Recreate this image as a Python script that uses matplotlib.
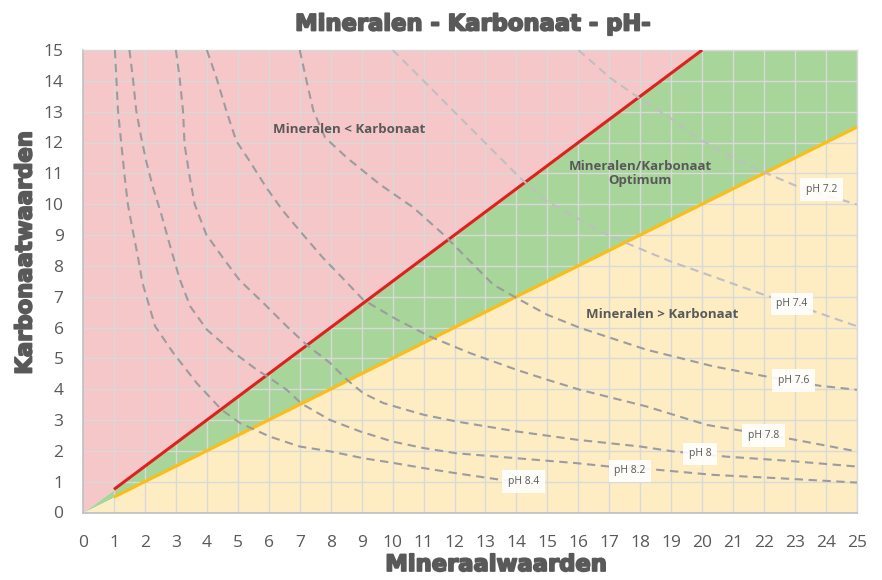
import matplotlib
matplotlib.use("Agg")
import matplotlib.pyplot as plt
import matplotlib.patheffects as pe
import numpy as np

# ---------------- data ----------------
bound_x = [0, 1, 20, 25]
upper_bound = [0, 0.75, 15, 15]       # Mineralen < Karbonaat border (red)
lower_bound = [0, 0.5, 10, 12.5]      # Mineralen > Karbonaat border (yellow)

red_line_x = [1, 20]
red_line_y = [0.75, 15]
yellow_line_x = [1, 25]
yellow_line_y = [0.5, 12.5]

ph72_x = [16.0, 17.02, 17.94, 18.96, 20.0, 21.11, 22.03, 23.16, 25]
ph72_y = [15, 14.1, 13.46, 12.8, 12.05, 11.45, 11.02, 10.54, 9.99]

ph74_x = [10.0, 11.0, 11.96, 13.04, 14.11, 14.98, 15.73, 17.02, 18.96, 21.97, 23.6, 25]
ph74_y = [15, 14.0, 13.03, 11.94, 10.86, 10.1, 9.67, 8.96, 8.15, 7.07, 6.53, 6.04]

ph76_x = [7.0, 7.22, 7.44, 7.82, 8.52, 9.59, 10.67, 11.64, 12.39, 13.25, 14.0, 14.98,
          16.05, 18.2, 20.36, 22.08, 23.8, 25]
ph76_y = [15, 14.0, 13.03, 12.16, 11.51, 10.64, 9.89, 9.02, 8.26, 7.39, 6.96, 6.42,
          5.99, 5.28, 4.74, 4.41, 4.11, 3.98]

ph78_x = [4.0, 4.31, 4.63, 4.95, 5.38, 5.92, 6.46, 7.1, 7.75, 8.34, 9.05, 10.13, 11.2,
          12.5, 14.0, 14.98, 16.05, 18.2, 20.15, 22.73, 25]
ph78_y = [15, 14.1, 13.03, 12.05, 11.4, 10.54, 9.78, 9.02, 8.26, 7.65, 6.9, 6.26, 5.71,
          5.17, 4.63, 4.31, 3.98, 3.44, 2.84, 2.41, 1.98]

ph80_x = [3.0, 3.12, 3.23, 3.28, 3.45, 3.61, 3.98, 4.52, 5.06, 5.82, 6.58, 7.22, 7.98,
          8.52, 9.05, 9.7, 10.24, 11.0, 12.07, 14.0, 15.95, 18.0, 19.07, 20.8, 22.73, 25]
ph80_y = [15, 14.1, 13.03, 11.94, 10.86, 9.99, 9.02, 8.26, 7.53, 6.8, 6.04, 5.44, 4.85,
          4.31, 3.87, 3.55, 3.39, 3.17, 2.95, 2.63, 2.36, 2.14, 1.98, 1.81, 1.68, 1.49]

ph82_x = [1.5, 1.61, 1.72, 1.88, 2.04, 2.26, 2.53, 2.8, 3.12, 3.46, 4.0, 4.75, 5.61, 5.93,
          6.58, 7.06, 7.98, 8.95, 10.0, 11.0, 12.07, 14.0, 15.95, 17.0, 18.4, 20.36, 22.5, 25]
ph82_y = [15, 14.1, 13.03, 12.16, 11.4, 10.54, 9.67, 8.69, 7.58, 6.69, 5.93, 5.28, 4.63, 4.43,
          3.98, 3.53, 3.0, 2.63, 2.3, 2.09, 1.92, 1.76, 1.6, 1.49, 1.4, 1.22, 1.11, 0.97]

ph84_x = [1.03, 1.13, 1.24, 1.35, 1.45, 1.61, 1.78, 1.92, 2.33, 2.92, 3.67, 4.48, 5.07,
          6.04, 7.0, 8.0, 9.05, 9.95, 11.0, 12.07, 13.5, 14.2]
ph84_y = [15, 13.03, 11.94, 10.86, 9.99, 9.13, 8.26, 7.45, 6.04, 5.17, 4.2, 3.33, 2.9,
          2.46, 2.14, 1.98, 1.76, 1.62, 1.44, 1.27, 1.06, 1.0]

ph_labels = ["pH 7.2", "pH 7.4", "pH 7.6", "pH 7.8", "pH 8", "pH 8.2", "pH 8.4"]
ph_label_x = [23.86, 22.9, 22.94, 21.97, 19.93, 17.67, 14.22]
ph_label_y = [10.48, 6.77, 4.28, 2.5, 1.9, 1.35, 1.0]

x_ticks = list(range(0, 26))
y_ticks = list(range(0, 16))

# ---------------- style ----------------
plt.rcParams['lines.scale_dashes'] = False
TXT = '#595959'
fig = plt.figure(figsize=(8.82, 5.80), dpi=100)
ax = fig.add_axes([83/882, 1-512.5/580, (857-83)/882, (512.5-50)/580])

ax.fill_between(bound_x, upper_bound, 15, color='#f6c7c8', lw=0, zorder=0.2)
ax.fill_between(bound_x, lower_bound, upper_bound, color='#a8d59a', lw=0, zorder=0.2)
ax.fill_between(bound_x, 0, lower_bound, color='#feedc3', lw=0, zorder=0.2)

ax.plot(red_line_x, red_line_y, color='#e0201f', lw=2.2, zorder=3, solid_capstyle='butt')
ax.plot(yellow_line_x, yellow_line_y, color='#fdbd12', lw=2.2, zorder=3, solid_capstyle='butt')

dark = '#9c9ca0'
light = '#bfbfc3'
curves = [(ph72_x, ph72_y, light), (ph74_x, ph74_y, light), (ph76_x, ph76_y, dark),
          (ph78_x, ph78_y, dark), (ph80_x, ph80_y, dark), (ph82_x, ph82_y, dark),
          (ph84_x, ph84_y, dark)]
for cx, cy, col in curves:
    ax.plot(cx, cy, color=col, lw=1.5, dashes=(6, 4), zorder=4)

for lab, lx, ly in zip(ph_labels, ph_label_x, ph_label_y):
    ax.text(lx, ly, lab, ha='center', va='center', fontsize=7.5, color=TXT,
            family='Open Sans', zorder=6,
            bbox=dict(boxstyle='square,pad=0.55', fc='white', ec='none', alpha=0.9))

region_kw = dict(ha='center', va='center', fontsize=9.5, fontweight='bold', color=TXT,
                 family='Open Sans', zorder=6)
ax.text(8.6, 12.43, "Mineralen < Karbonaat", **region_kw)
ax.text(18.0, 11.0, "Mineralen/Karbonaat\nOptimum", linespacing=1.15, **region_kw)
ax.text(18.71, 6.42, "Mineralen > Karbonaat", **region_kw)

ax.set_xlim(0, 25)
ax.set_ylim(0, 15)
ax.set_xticks(x_ticks)
ax.set_yticks(y_ticks)
ax.set_axisbelow(True)
ax.grid(True, color='#d9d9d9', lw=1.0, zorder=0.5)
ax.tick_params(length=0, labelsize=12.5, labelcolor=TXT)
ax.tick_params(axis='x', pad=16)
ax.tick_params(axis='y', pad=14)
for lab in ax.get_xticklabels() + ax.get_yticklabels():
    lab.set_family('Open Sans')
for s in ['left', 'bottom']:
    ax.spines[s].set_color('#bfbfbf')
    ax.spines[s].set_linewidth(1.2)
for s in ['top', 'right']:
    ax.spines[s].set_color('#d9d9d9')
    ax.spines[s].set_linewidth(1.0)

heavy = dict(family='DejaVu Sans', fontweight='bold', color=TXT,
             path_effects=[pe.withStroke(linewidth=1.3, foreground=TXT)])
fig.text(473/882, 1-24/580, "Mineralen - Karbonaat - pH-", ha='center', va='center',
         fontsize=16.3, **heavy)
fig.text(496/882, 1-571/580, "Mineraalwaarden", ha='center', va='baseline', fontsize=16.3, **heavy)
fig.text(25/882, 1-253/580, "Karbonaatwaarden", ha='center', va='center', rotation=90,
         fontsize=16.3, **heavy)

fig.savefig('out.png', dpi=100)
